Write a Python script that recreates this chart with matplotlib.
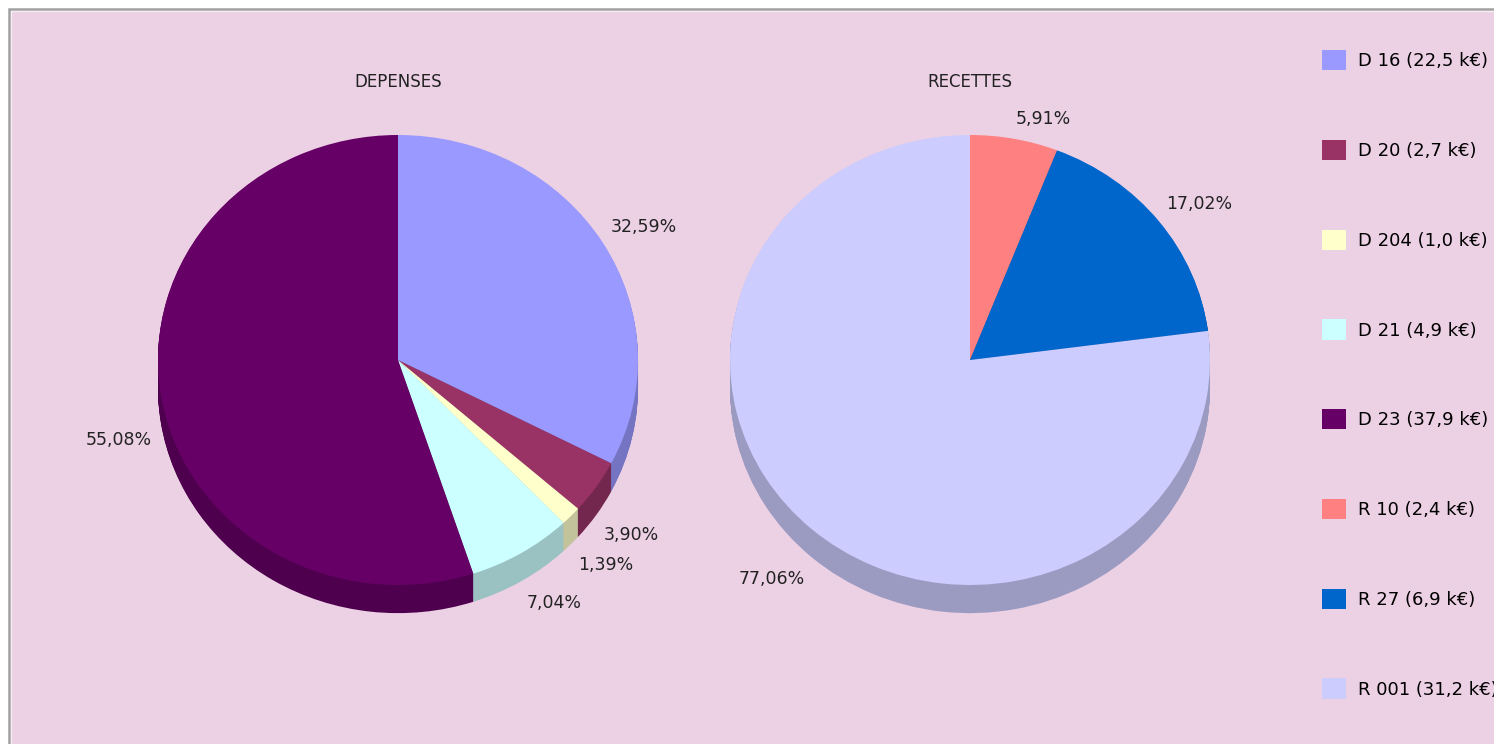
import numpy as np
import matplotlib.pyplot as plt
from matplotlib.patches import Patch, Rectangle
from matplotlib.colors import to_rgb

# données
dep_codes = ['D 16', 'D 20', 'D 204', 'D 21', 'D 23']
dep_keur = [22.5, 2.7, 1.0, 4.9, 37.9]
dep_pct = [32.59, 3.90, 1.39, 7.04, 55.08]
dep_colors = ['#9999FF', '#993366', '#FFFFCC', '#CCFFFF', '#660066']

rec_codes = ['R 10', 'R 27', 'R 001']
rec_keur = [2.4, 6.9, 31.2]
rec_pct = [5.91, 17.02, 77.06]
rec_colors = ['#FF8080', '#0066CC', '#CCCCFF']

W, H = 1494, 744
BG = '#ECD0E4'
DEPTH = 0.125  # épaisseur du "3D", en rayons verticaux

fig = plt.figure(figsize=(W / 100, H / 100), dpi=100)
fig.patch.set_facecolor('white')

# cadre
fig.patches.append(Rectangle((8.5 / W, -0.1), 1.2, (H - 8.5) / H + 0.1, transform=fig.transFigure,
                             facecolor=BG, edgecolor='#A0A0A0', linewidth=1.8, zorder=-2))
fig.patches.append(Rectangle((11 / W, -0.1), 1.2, (H - 11) / H + 0.1, transform=fig.transFigure,
                             facecolor='none', edgecolor='#F4EEF2', linewidth=1.0, zorder=-1))


def darker(c, f=0.76):
    r, g, b = to_rgb(c)
    return (r * f, g * f, b * f)


def pie3d(cx, title, pct, colors):
    # 1 unité = 240 px en x, 225 px en y
    ax = fig.add_axes([(cx - 360) / W, (H - 360 - 360) / H, 720 / W, 720 / H])
    ax.set_axis_off()
    side = [darker(c) for c in colors]
    for off in np.linspace(DEPTH, 0.004, 32):
        ax.pie(pct, colors=side, startangle=90, counterclock=False, center=(0, -off),
               wedgeprops=dict(linewidth=0))
    labels = [f'{p:.2f}%'.replace('.', ',') for p in pct]
    wedges, texts = ax.pie(pct, colors=colors, startangle=90, counterclock=False,
                           labels=labels, labeldistance=1.04,
                           wedgeprops=dict(linewidth=0),
                           textprops=dict(fontsize=12.5, color='#222222'))
    # au-dessus : texte posé sur le point ; en dessous : sous l'épaisseur
    for t in texts:
        x, y = t.get_position()
        if y >= 0:
            t.set_va('bottom')
            t.set_position((x, y + 0.01))
        else:
            t.set_va('top')
            t.set_position((x, y - DEPTH - 0.025))
    ax.set_aspect('auto')
    ax.set_xlim(-1.5, 1.5)
    ax.set_ylim(-1.6, 1.6)
    ax.text(0, 1.235, title, ha='center', va='center', fontsize=12, color='#222222')


pie3d(398, 'DEPENSES', dep_pct, dep_colors)
pie3d(970, 'RECETTES', rec_pct, rec_colors)

# légende
handles = [Patch(facecolor=c, edgecolor='none') for c in dep_colors + rec_colors]
names = [f'{n} ({v:.1f} k€)'.replace('.', ',') for n, v in
         zip(dep_codes + rec_codes, dep_keur + rec_keur)]
fig.legend(handles, names, loc='upper left', bbox_to_anchor=(1322 / W, 1 - 50 / H),
           frameon=False, fontsize=13, handlelength=1.35, handleheight=1.35,
           handletextpad=0.62, labelspacing=3.85, borderpad=0, borderaxespad=0)

plt.savefig('out.png', dpi=100, facecolor=fig.get_facecolor())
